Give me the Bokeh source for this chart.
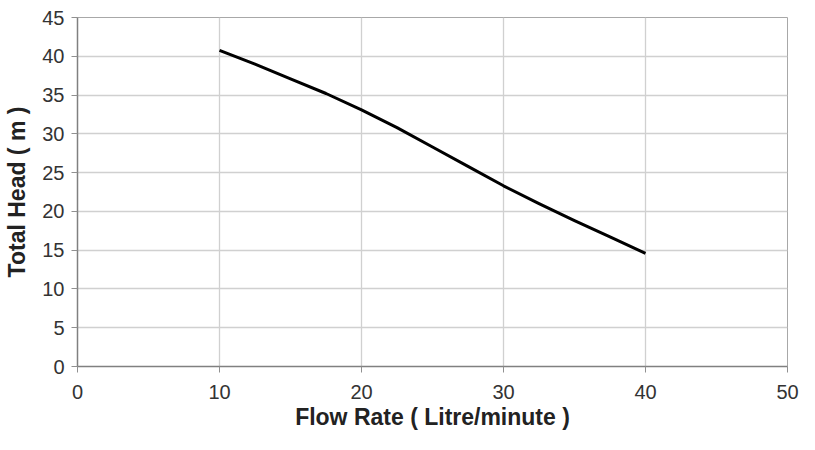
from bokeh.plotting import figure
from bokeh.models import Range1d, FixedTicker
from bokeh.embed import file_html
from bokeh.resources import INLINE

flow_rate = [10, 12.5, 15, 17.5, 20, 22.5, 25, 27.5, 30, 32.5, 35, 37.5, 40]
total_head = [40.75, 39.0, 37.1, 35.2, 33.1, 30.8, 28.3, 25.8, 23.3, 21.0, 18.8, 16.7, 14.6]
x_ticks = [0, 10, 20, 30, 40, 50]
y_ticks = [0, 5, 10, 15, 20, 25, 30, 35, 40, 45]

p = figure(width=799, height=434, output_backend="svg", toolbar_location=None,
           x_range=Range1d(0, 50), y_range=Range1d(0, 45),
           min_border_left=77, min_border_right=12, min_border_top=17, min_border_bottom=68)

p.line(flow_rate, total_head, line_color="black", line_width=3, line_join="round")

p.xaxis.ticker = FixedTicker(ticks=x_ticks)
p.yaxis.ticker = FixedTicker(ticks=y_ticks)
p.xaxis.axis_label = "Flow Rate ( Litre/minute )"
p.yaxis.axis_label = "Total Head ( m )"

for ax in (p.xaxis, p.yaxis):
    ax.axis_label_text_font = "Liberation Sans"
    ax.axis_label_text_font_style = "bold"
    ax.axis_label_text_color = "#222222"
    ax.axis_label_text_font_size = "23px"
    ax.major_label_text_font = "Liberation Sans"
    ax.major_label_text_font_size = "20px"
    ax.major_label_text_color = "#333333"
    ax.axis_line_color = "#808080"
    ax.axis_line_width = 1.5
    ax.major_tick_line_color = "#909090"
    ax.major_tick_out = 6
    ax.major_tick_in = 0
    ax.minor_tick_line_color = None

p.xaxis.major_label_standoff = 12
p.xaxis.axis_label_standoff = 2
p.yaxis.major_label_standoff = 7
p.yaxis.axis_label_standoff = 9

p.xgrid.grid_line_color = "#d0d0d0"
p.ygrid.grid_line_color = "#d0d0d0"
p.xgrid.grid_line_width = 1.3
p.ygrid.grid_line_width = 1.3
p.outline_line_color = "#a8a8a8"
p.background_fill_color = "white"
p.border_fill_color = "white"

open("out.html", "w").write(file_html(p, INLINE))
